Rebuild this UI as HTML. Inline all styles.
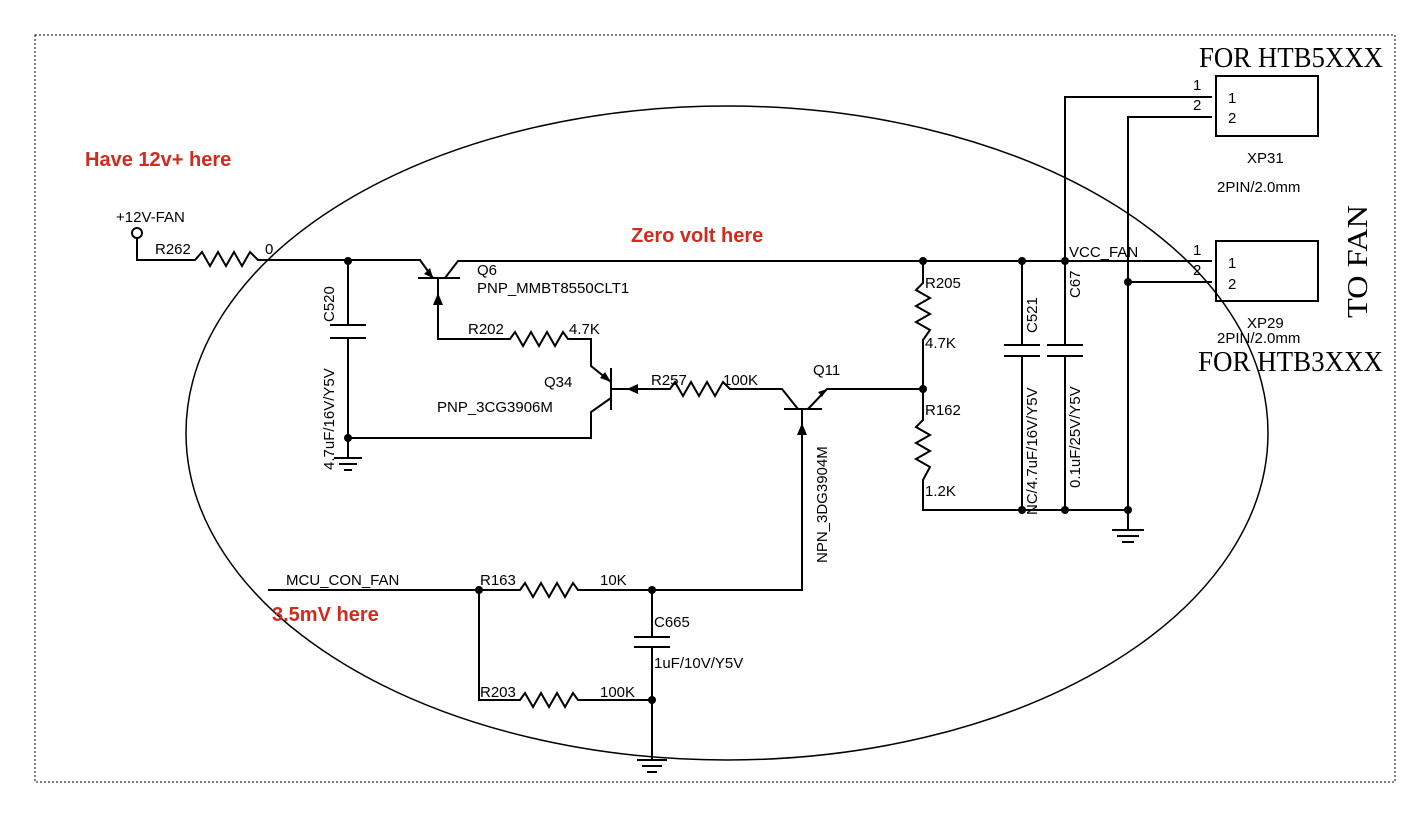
<!DOCTYPE html>
<html><head><meta charset="utf-8"><style>
html,body{margin:0;padding:0;background:#fff;}
svg{display:block;}
text{font-family:"Liberation Sans",Arial,sans-serif;font-size:15px;fill:#000;}
.r{fill:#d42a1e;font-weight:bold;font-size:20px;}
.s{font-family:"Liberation Serif",serif;font-size:28px;}
</style></head><body>
<svg width="1420" height="815" viewBox="0 0 1420 815" xmlns="http://www.w3.org/2000/svg">
<rect x="35" y="35" width="1360" height="747" fill="none" stroke="#000" stroke-dasharray="2,2" stroke-width="1"/>
<ellipse cx="727" cy="433" rx="541" ry="327" fill="none" stroke="#000" stroke-width="1.5"/>
<g stroke="#000" stroke-width="2" fill="none">
<circle cx="137" cy="233" r="5"/>
<polyline points="137,238 137,260 195,260 202,252 210,266 218,252 226,266 234,252 242,266 250,252 258,260 420,260 433,278"/>
<line x1="418" y1="278" x2="460" y2="278"/>
<polyline points="445,278 458,261 1212,261"/>
<polyline points="438,278 438,339 510,339 515,332 523,346 531,332 539,346 547,332 555,346 563,332 568,339 591,339 591,366 611,382"/>
<line x1="611" y1="368" x2="611" y2="410"/>
<polyline points="611,398 591,412 591,438 348,438"/>
<polyline points="611,389 670,389 675,382 683,396 691,382 699,396 707,382 715,396 723,382 730,389 782,389 798,409"/>
<line x1="784" y1="409" x2="822" y2="409"/>
<polyline points="808,409 827,389 923,389"/>
<polyline points="802,409 802,590 578,590 573,583 565,597 557,583 549,597 541,583 533,597 525,583 520,590 268,590"/>
<polyline points="348,261 348,325"/><line x1="330" y1="325" x2="366" y2="325"/><line x1="330" y1="338" x2="366" y2="338"/>
<polyline points="348,338 348,458"/>
<line x1="334" y1="458" x2="362" y2="458"/><line x1="339" y1="464" x2="357" y2="464"/><line x1="344" y1="470" x2="352" y2="470"/>
<polyline points="923,261 923,283 916,290 930,298 916,306 930,314 916,322 930,330 923,340 923,420 916,427 930,435 916,443 930,451 916,459 930,467 923,480 923,510 1128,510"/>
<polyline points="1022,261 1022,345"/><line x1="1004" y1="345" x2="1040" y2="345"/><line x1="1004" y1="356" x2="1040" y2="356"/><polyline points="1022,356 1022,510"/>
<polyline points="1212,97 1065,97 1065,345"/><line x1="1047" y1="345" x2="1083" y2="345"/><line x1="1047" y1="356" x2="1083" y2="356"/><polyline points="1065,356 1065,510"/>
<polyline points="1212,117 1128,117 1128,530"/>
<line x1="1128" y1="282" x2="1212" y2="282"/>
<line x1="1112" y1="530" x2="1144" y2="530"/><line x1="1117" y1="536" x2="1139" y2="536"/><line x1="1122" y1="542" x2="1134" y2="542"/>
<rect x="1216" y="76" width="102" height="60"/>
<rect x="1216" y="241" width="102" height="60"/>
<polyline points="479,590 479,700 520,700 525,693 533,707 541,693 549,707 557,693 565,707 573,693 578,700 652,700"/>
<polyline points="652,590 652,637"/><line x1="634" y1="637" x2="670" y2="637"/><line x1="634" y1="647" x2="670" y2="647"/><polyline points="652,647 652,760"/>
<line x1="637" y1="760" x2="667" y2="760"/><line x1="642" y1="766" x2="662" y2="766"/><line x1="647" y1="772" x2="657" y2="772"/>
</g>
<g fill="#000">
<polygon points="433,278 424,274 430,268"/>
<polygon points="438,293 433,305 443,305"/>
<polygon points="611,382 600,378 605,372"/>
<polygon points="627,389 638,384 638,394"/>
<polygon points="827,389 818,392 822,397"/>
<polygon points="802,423 797,435 807,435"/>
<circle cx="348" cy="261" r="4"/><circle cx="348" cy="438" r="4"/>
<circle cx="923" cy="261" r="4"/><circle cx="923" cy="389" r="4"/>
<circle cx="1022" cy="261" r="4"/><circle cx="1065" cy="261" r="4"/>
<circle cx="1022" cy="510" r="4"/><circle cx="1065" cy="510" r="4"/><circle cx="1128" cy="510" r="4"/>
<circle cx="1128" cy="282" r="4"/>
<circle cx="479" cy="590" r="4"/><circle cx="652" cy="590" r="4"/><circle cx="652" cy="700" r="4"/>
</g>
<text class="r" x="85" y="166">Have 12v+ here</text>
<text class="r" x="631" y="242">Zero volt here</text>
<text class="r" x="272" y="621">3.5mV here</text>
<text x="116" y="222">+12V-FAN</text>
<text x="155" y="254">R262</text>
<text x="265" y="254">0</text>
<text x="477" y="275">Q6</text>
<text x="477" y="293">PNP_MMBT8550CLT1</text>
<text x="468" y="334">R202</text>
<text x="569" y="334">4.7K</text>
<text x="544" y="387">Q34</text>
<text x="437" y="412">PNP_3CG3906M</text>
<text x="651" y="385">R257</text>
<text x="723" y="385">100K</text>
<text x="813" y="375">Q11</text>
<text x="925" y="288">R205</text>
<text x="925" y="348">4.7K</text>
<text x="925" y="415">R162</text>
<text x="925" y="496">1.2K</text>
<text x="1069" y="257">VCC_FAN</text>
<text x="286" y="585">MCU_CON_FAN</text>
<text x="480" y="585">R163</text>
<text x="600" y="585">10K</text>
<text x="654" y="627">C665</text>
<text x="654" y="668">1uF/10V/Y5V</text>
<text x="480" y="697">R203</text>
<text x="600" y="697">100K</text>
<text transform="translate(334,322) rotate(-90)">C520</text>
<text transform="translate(334,470) rotate(-90)">4.7uF/16V/Y5V</text>
<text transform="translate(827,563) rotate(-90)">NPN_3DG3904M</text>
<text transform="translate(1037,333) rotate(-90)">C521</text>
<text transform="translate(1037,515) rotate(-90)">NC/4.7uF/16V/Y5V</text>
<text transform="translate(1080,298) rotate(-90)">C67</text>
<text transform="translate(1080,488) rotate(-90)">0.1uF/25V/Y5V</text>
<text x="1193" y="90">1</text><text x="1193" y="110">2</text>
<text x="1228" y="103">1</text><text x="1228" y="123">2</text>
<text x="1193" y="255">1</text><text x="1193" y="275">2</text>
<text x="1228" y="268">1</text><text x="1228" y="289">2</text>
<text x="1247" y="163">XP31</text>
<text x="1217" y="192">2PIN/2.0mm</text>
<text x="1247" y="328">XP29</text>
<text x="1217" y="343">2PIN/2.0mm</text>
<text class="s" x="1199" y="67" textLength="184" lengthAdjust="spacingAndGlyphs">FOR  HTB5XXX</text>
<text class="s" x="1198" y="371" textLength="185" lengthAdjust="spacingAndGlyphs">FOR  HTB3XXX</text>
<text class="s" transform="translate(1367,318) rotate(-90)" textLength="113" lengthAdjust="spacingAndGlyphs">TO  FAN</text>
</svg>
</body></html>
